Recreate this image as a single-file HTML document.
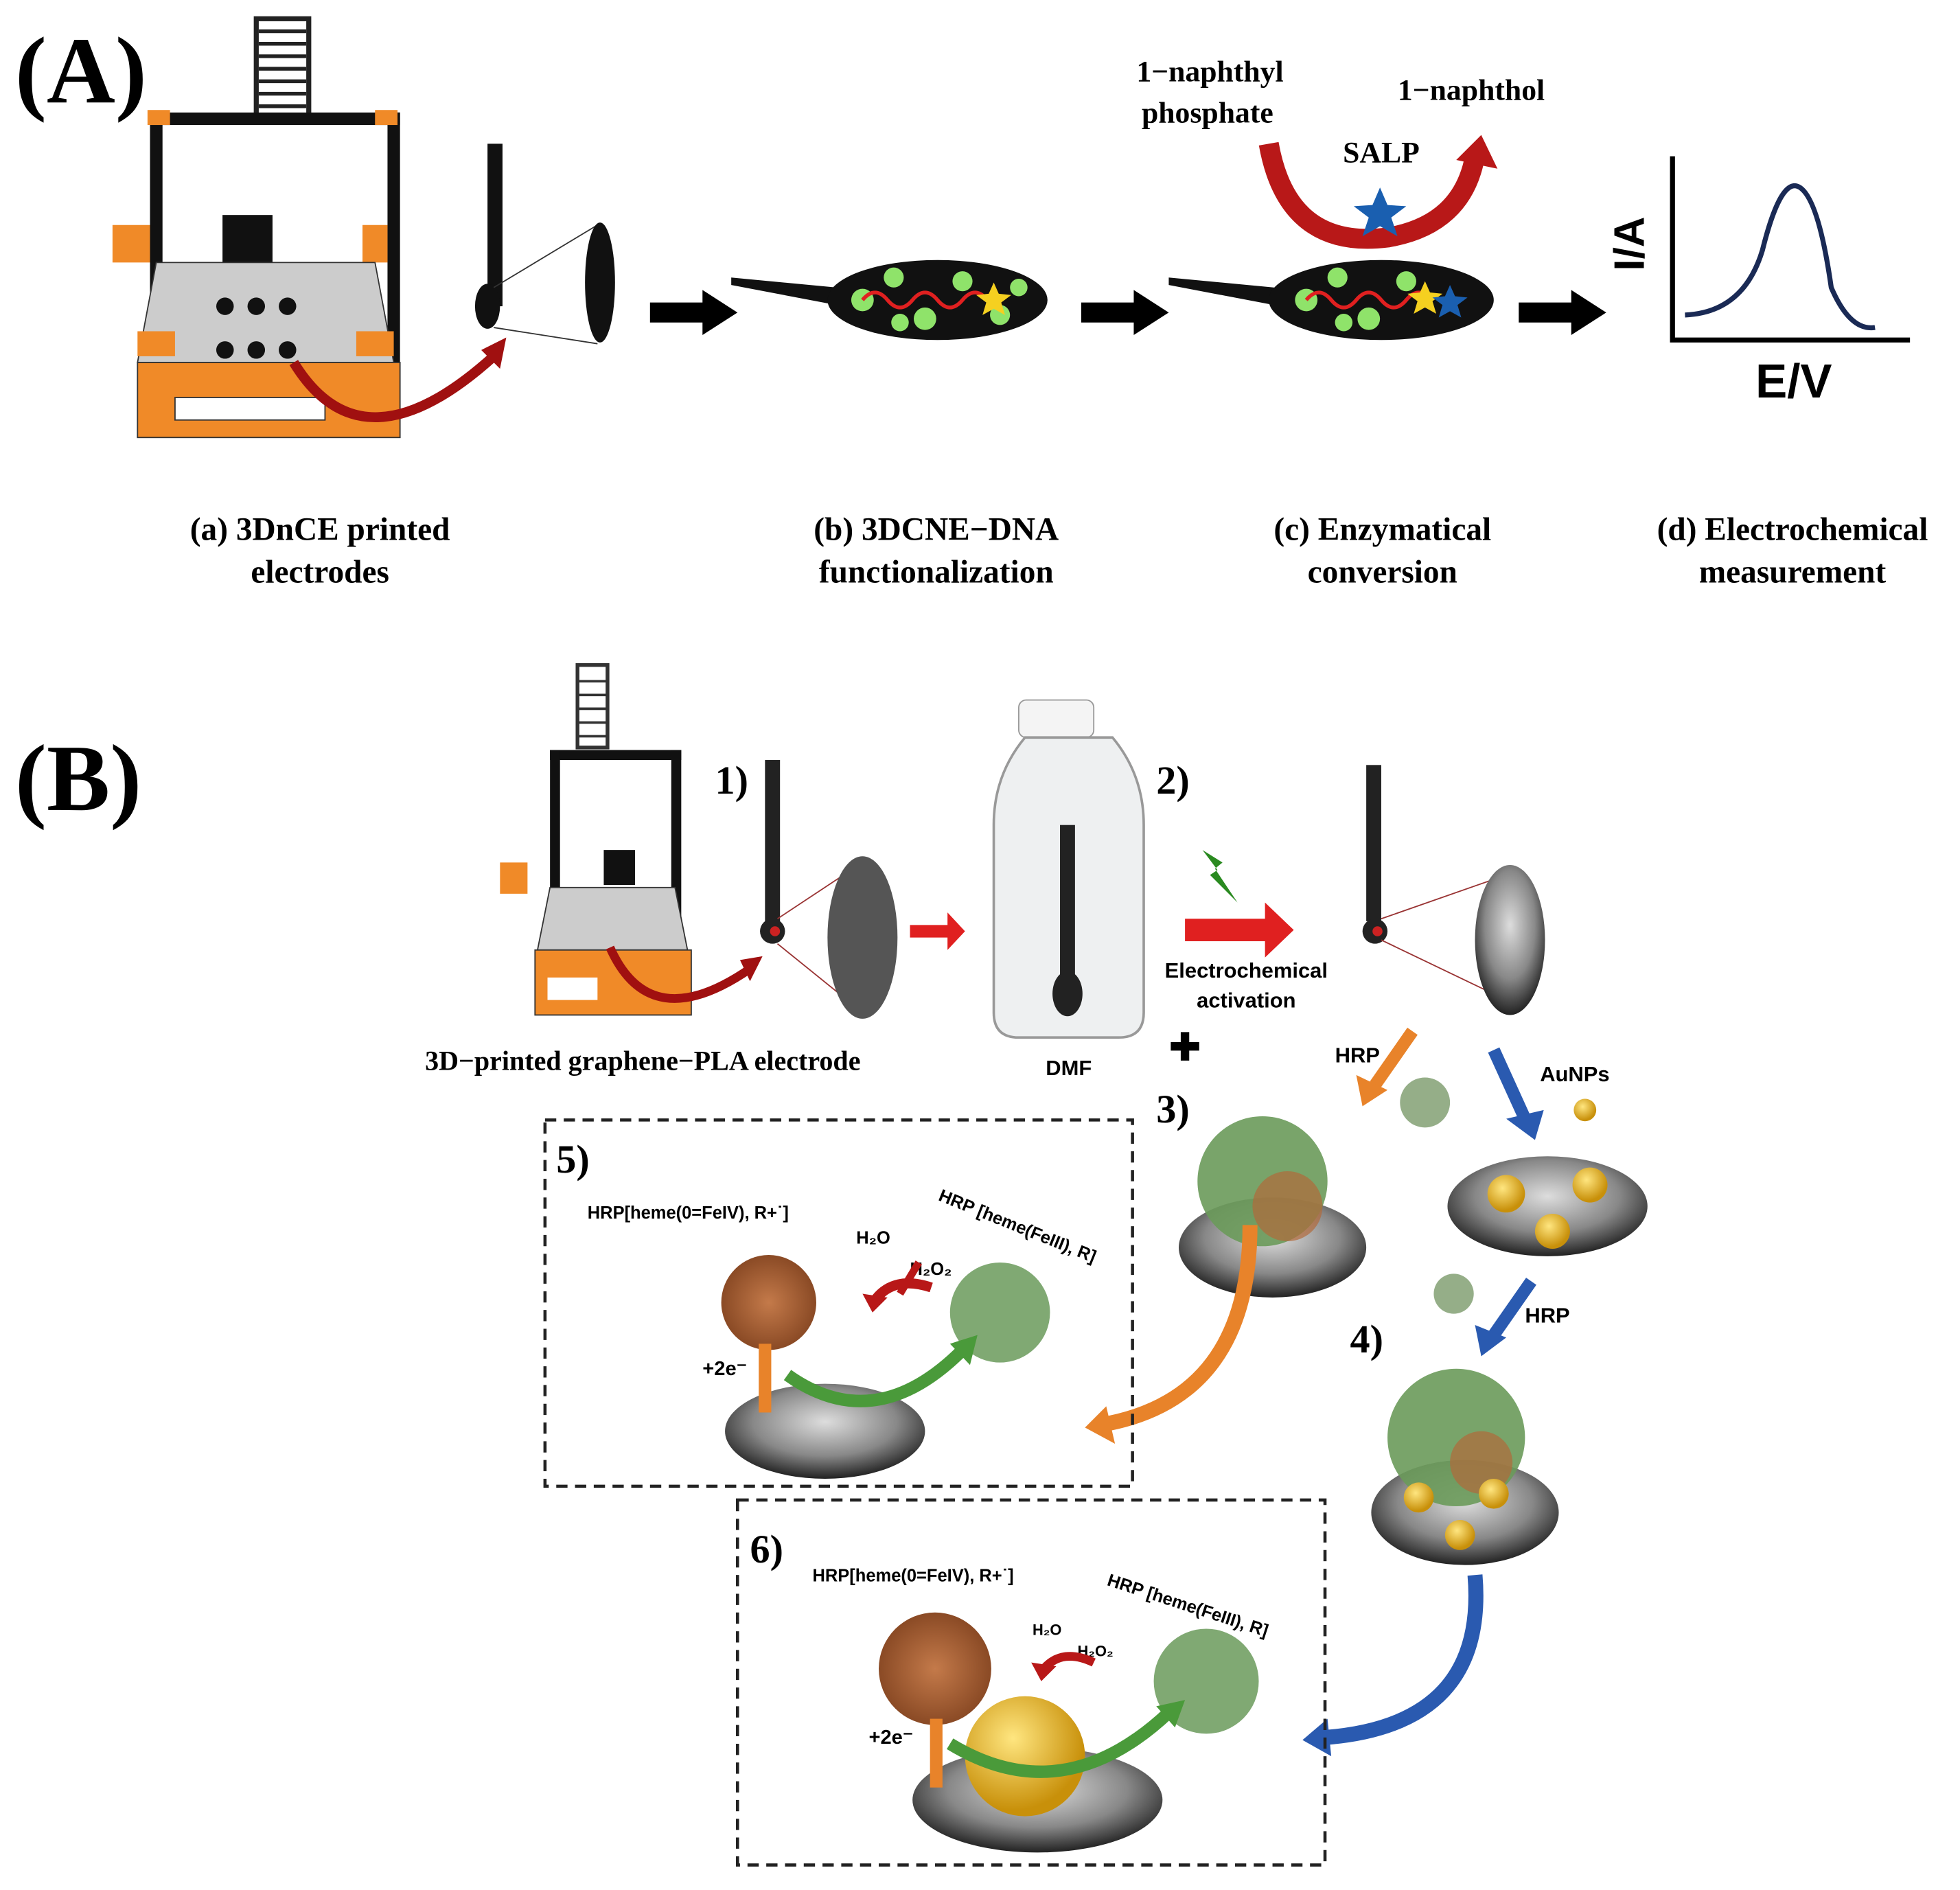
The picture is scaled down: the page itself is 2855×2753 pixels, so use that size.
<!DOCTYPE html>
<html><head><meta charset="utf-8"><style>
html,body{margin:0;padding:0;background:#fff}
svg{display:block}
.s{font-family:"Liberation Serif",serif;font-weight:bold}
.a{font-family:"Liberation Sans",sans-serif;font-weight:bold}
</style></head><body>
<svg width="2855" height="2753" viewBox="0 0 1568 1512" xmlns="http://www.w3.org/2000/svg">
<defs>
<radialGradient id="g" cx="50%" cy="40%" r="60%"><stop offset="0" stop-color="#ddd"/><stop offset="0.6" stop-color="#888"/><stop offset="1" stop-color="#222"/></radialGradient>
<radialGradient id="au" cx="40%" cy="35%" r="60%"><stop offset="0" stop-color="#ffe680"/><stop offset="1" stop-color="#c8900a"/></radialGradient>
<radialGradient id="pr" cx="50%" cy="50%" r="50%"><stop offset="0" stop-color="#c47a4a"/><stop offset="1" stop-color="#8a4a25"/></radialGradient>
</defs>
<rect width="1568" height="1512" fill="#fff"/>
<text class="s" x="12" y="82" font-size="76">(A)</text>
<g>
<rect x="205" y="15" width="42" height="78" fill="#fff" stroke="#222" stroke-width="4"/>
<g stroke="#222" stroke-width="3"><line x1="207" y1="25" x2="245" y2="25"/><line x1="207" y1="35" x2="245" y2="35"/><line x1="207" y1="45" x2="245" y2="45"/><line x1="207" y1="55" x2="245" y2="55"/><line x1="207" y1="65" x2="245" y2="65"/><line x1="207" y1="75" x2="245" y2="75"/><line x1="207" y1="85" x2="245" y2="85"/></g>
<rect x="120" y="90" width="200" height="10" fill="#111"/>
<rect x="120" y="90" width="10" height="260" fill="#111"/>
<rect x="310" y="90" width="10" height="260" fill="#111"/>
<rect x="118" y="88" width="18" height="12" fill="#f08a28"/><rect x="300" y="88" width="18" height="12" fill="#f08a28"/>
<rect x="90" y="180" width="30" height="30" fill="#f08a28"/><rect x="290" y="180" width="20" height="30" fill="#f08a28"/>
<rect x="178" y="172" width="40" height="40" fill="#111"/>
<path d="M125 210 L300 210 L315 290 L110 290z" fill="#ccc" stroke="#333"/>
<rect x="110" y="265" width="30" height="20" fill="#f08a28"/><rect x="285" y="265" width="30" height="20" fill="#f08a28"/>
<rect x="110" y="290" width="210" height="60" fill="#f08a28" stroke="#333"/>
<rect x="140" y="318" width="120" height="18" fill="#fff" stroke="#333"/>
<g fill="#111"><circle cx="180" cy="245" r="7"/><circle cx="205" cy="245" r="7"/><circle cx="230" cy="245" r="7"/><circle cx="180" cy="280" r="7"/><circle cx="205" cy="280" r="7"/><circle cx="230" cy="280" r="7"/></g>
<path d="M235 290 Q290 380 395 285" fill="none" stroke="#a01010" stroke-width="8"/><path d="M385 280 L405 270 L400 295z" fill="#a01010"/>
</g>
<rect x="390" y="115" width="12" height="130" fill="#111"/><ellipse cx="390" cy="245" rx="10" ry="18" fill="#111"/>
<line x1="395" y1="230" x2="478" y2="180" stroke="#333"/><line x1="395" y1="262" x2="478" y2="275" stroke="#333"/>
<ellipse cx="480" cy="226" rx="12" ry="48" fill="#111"/>
<g fill="#000"><rect x="520" y="242" width="45" height="16"/><path d="M562 232L590 250L562 268z"/>
<rect x="865" y="242" width="45" height="16"/><path d="M907 232L935 250L907 268z"/>
<rect x="1215" y="242" width="45" height="16"/><path d="M1257 232L1285 250L1257 268z"/></g>
<path d="M585 222 L690 232 L690 248 L585 228z" fill="#111"/>
<ellipse cx="750" cy="240" rx="88" ry="32" fill="#111"/>
<g fill="#8fe36a"><circle cx="690" cy="240" r="9"/><circle cx="715" cy="222" r="8"/><circle cx="740" cy="255" r="9"/><circle cx="770" cy="225" r="8"/><circle cx="800" cy="252" r="8"/><circle cx="720" cy="258" r="7"/><circle cx="815" cy="230" r="7"/></g>
<path d="M690 240 q10 -12 20 0 t20 0 t20 0 t20 0 t20 0" fill="none" stroke="#e02020" stroke-width="3"/>
<path d="M795 226l4 9 10 1-8 6 3 10-9-5-9 5 3-10-8-6 10-1z" fill="#f5d020"/>
<path d="M935 222 L1040 232 L1040 248 L935 228z" fill="#111"/>
<ellipse cx="1105" cy="240" rx="90" ry="32" fill="#111"/>
<g fill="#8fe36a"><circle cx="1045" cy="240" r="9"/><circle cx="1070" cy="222" r="8"/><circle cx="1095" cy="255" r="9"/><circle cx="1125" cy="225" r="8"/><circle cx="1075" cy="258" r="7"/></g>
<path d="M1045 240 q10 -12 20 0 t20 0 t20 0 t20 0 t20 0" fill="none" stroke="#e02020" stroke-width="3"/>
<path d="M1140 225l4 9 10 1-8 6 3 10-9-5-9 5 3-10-8-6 10-1z" fill="#f5d020"/>
<path d="M1160 228l4 9 10 1-8 6 3 10-9-5-9 5 3-10-8-6 10-1z" fill="#1a5fb0"/>
<path d="M1015 115 Q1030 200 1110 190 Q1170 180 1180 125" fill="none" stroke="#b81818" stroke-width="16"/>
<path d="M1165 128 L1185 108 L1198 135z" fill="#b81818"/>
<path d="M1104 150l6 14 15 1-12 9 5 15-14-8-14 8 5-15-12-9 15-1z" fill="#1a5fb0"/>
<text class="s" x="968" y="65" font-size="24" text-anchor="middle">1−naphthyl</text>
<text class="s" x="966" y="98" font-size="24" text-anchor="middle">phosphate</text>
<text class="s" x="1177" y="80" font-size="24" text-anchor="middle">1−naphthol</text>
<text class="s" x="1105" y="130" font-size="24" text-anchor="middle">SALP</text>
<path d="M1338 125 L1338 272 L1528 272" fill="none" stroke="#000" stroke-width="4"/>
<path d="M1348 252 Q1395 250 1410 200 Q1425 140 1440 150 Q1455 160 1465 230 Q1480 265 1500 262" fill="none" stroke="#1a2a55" stroke-width="4"/>
<text class="a" x="1315" y="195" font-size="34" transform="rotate(-90 1315 195)" text-anchor="middle">I/A</text>
<text class="a" x="1435" y="318" font-size="38" text-anchor="middle">E/V</text>
<g class="s" font-size="26" text-anchor="middle">
<text x="256" y="432">(a) 3DnCE printed</text><text x="256" y="466">electrodes</text>
<text x="749" y="432">(b) 3DCNE−DNA</text><text x="749" y="466">functionalization</text>
<text x="1106" y="432">(c) Enzymatical</text><text x="1106" y="466">conversion</text>
<text x="1434" y="432">(d) Electrochemical</text><text x="1434" y="466">measurement</text>
</g>
<text class="s" x="12" y="648" font-size="76">(B)</text>
<rect x="462" y="532" width="24" height="66" fill="#fff" stroke="#333" stroke-width="3"/>
<g stroke="#333" stroke-width="2"><line x1="463" y1="545" x2="485" y2="545"/><line x1="463" y1="556" x2="485" y2="556"/><line x1="463" y1="567" x2="485" y2="567"/><line x1="463" y1="578" x2="485" y2="578"/><line x1="463" y1="589" x2="485" y2="589"/></g>
<rect x="440" y="600" width="105" height="8" fill="#111"/>
<rect x="440" y="600" width="8" height="140" fill="#111"/><rect x="537" y="600" width="8" height="140" fill="#111"/>
<rect x="400" y="690" width="22" height="25" fill="#f08a28"/>
<rect x="483" y="680" width="25" height="28" fill="#111"/>
<path d="M440 710 L540 710 L550 760 L430 760z" fill="#ccc" stroke="#333"/>
<rect x="428" y="760" width="125" height="52" fill="#f08a28" stroke="#333"/>
<rect x="438" y="782" width="40" height="18" fill="#fff"/>
<path d="M488 758 Q520 830 600 775" fill="none" stroke="#a01010" stroke-width="7"/><path d="M592 768 L610 765 L600 785z" fill="#a01010"/>
<text class="s" x="572" y="635" font-size="32">1)</text>
<rect x="612" y="608" width="12" height="130" fill="#222"/><circle cx="618" cy="745" r="10" fill="#222"/><circle cx="620" cy="745" r="4" fill="#c22"/>
<line x1="622" y1="735" x2="690" y2="690" stroke="#933"/><line x1="622" y1="755" x2="690" y2="810" stroke="#933"/>
<ellipse cx="690" cy="750" rx="28" ry="65" fill="#555"/>
<path d="M728 740 L758 740 L758 730 L772 745 L758 760 L758 750 L728 750z" fill="#e02020"/>
<rect x="815" y="560" width="60" height="30" rx="6" fill="#f4f4f4" stroke="#999"/>
<path d="M820 590 Q795 620 795 660 L795 810 Q795 830 815 830 L895 830 Q915 830 915 810 L915 660 Q915 620 890 590z" fill="#eef0f1" stroke="#999" stroke-width="2"/>
<rect x="848" y="660" width="12" height="130" fill="#222"/><ellipse cx="854" cy="795" rx="12" ry="18" fill="#222"/>
<text class="a" x="855" y="860" font-size="17" text-anchor="middle">DMF</text>
<text class="s" x="925" y="635" font-size="32">2)</text>
<path d="M962 680 L978 690 L972 695 L990 722 L968 700 L974 696z" fill="#2a8a20"/>
<path d="M948 735 L1012 735 L1012 722 L1035 744 L1012 766 L1012 753 L948 753z" fill="#e02020"/>
<text class="a" x="997" y="782" font-size="17" text-anchor="middle">Electrochemical</text>
<text class="a" x="997" y="806" font-size="17" text-anchor="middle">activation</text>
<text class="s" x="948" y="848" font-size="30" text-anchor="middle">✚</text>
<text class="s" x="340" y="856" font-size="22">3D−printed graphene−PLA electrode</text>
<rect x="1093" y="612" width="12" height="125" fill="#222"/><circle cx="1100" cy="745" r="10" fill="#222"/><circle cx="1102" cy="745" r="4" fill="#c22"/>
<line x1="1105" y1="735" x2="1205" y2="700" stroke="#933"/><line x1="1105" y1="752" x2="1205" y2="800" stroke="#933"/>
<ellipse cx="1208" cy="752" rx="28" ry="60" fill="url(#g)"/>
<path d="M1130 825 L1100 868" stroke="#e8832a" stroke-width="10"/><path d="M1085 860 L1090 885 L1110 872z" fill="#e8832a"/>
<text class="a" x="1068" y="850" font-size="17">HRP</text>
<circle cx="1140" cy="882" r="20" fill="#7a9a6a" opacity="0.8"/>
<path d="M1195 840 L1220 895" stroke="#2a5ab0" stroke-width="10"/><path d="M1205 895 L1228 912 L1235 888z" fill="#2a5ab0"/>
<text class="a" x="1232" y="865" font-size="17">AuNPs</text>
<circle cx="1268" cy="888" r="9" fill="url(#au)"/>
<text class="s" x="925" y="898" font-size="32">3)</text>
<ellipse cx="1018" cy="998" rx="75" ry="40" fill="url(#g)"/>
<circle cx="1010" cy="945" r="52" fill="#6a9a5a" opacity="0.9"/><circle cx="1030" cy="965" r="28" fill="#b06a3a" opacity="0.7"/>
<path d="M1000 980 Q1000 1120 880 1140" fill="none" stroke="#e8832a" stroke-width="12"/><path d="M885 1125 L868 1142 L892 1155z" fill="#e8832a"/>
<ellipse cx="1238" cy="965" rx="80" ry="40" fill="url(#g)"/>
<circle cx="1205" cy="955" r="15" fill="url(#au)"/><circle cx="1272" cy="948" r="14" fill="url(#au)"/><circle cx="1242" cy="985" r="14" fill="url(#au)"/>
<circle cx="1163" cy="1035" r="16" fill="#7a9a6a" opacity="0.8"/>
<path d="M1225 1025 L1195 1068" stroke="#2a5ab0" stroke-width="10"/><path d="M1180 1060 L1185 1085 L1205 1070z" fill="#2a5ab0"/>
<text class="a" x="1220" y="1058" font-size="17">HRP</text>
<text class="s" x="1080" y="1082" font-size="32">4)</text>
<ellipse cx="1172" cy="1210" rx="75" ry="42" fill="url(#g)"/>
<circle cx="1165" cy="1150" r="55" fill="#6a9a5a" opacity="0.9"/><circle cx="1185" cy="1170" r="25" fill="#b06a3a" opacity="0.7"/>
<circle cx="1135" cy="1198" r="12" fill="url(#au)"/><circle cx="1195" cy="1195" r="12" fill="url(#au)"/><circle cx="1168" cy="1228" r="12" fill="url(#au)"/>
<path d="M1180 1260 Q1190 1380 1060 1390" fill="none" stroke="#2a5ab0" stroke-width="12"/><path d="M1062 1375 L1042 1392 L1065 1405z" fill="#2a5ab0"/>
<rect x="436" y="896" width="470" height="293" fill="none" stroke="#222" stroke-width="2.5" stroke-dasharray="9,6"/>
<text class="s" x="445" y="938" font-size="32">5)</text>
<text class="a" x="470" y="975" font-size="14">HRP[heme(0=FeIV), R+˙]</text>
<text class="a" x="750" y="960" font-size="14" transform="rotate(22 750 960)">HRP [heme(FeIII), R]</text>
<text class="a" x="685" y="995" font-size="14">H₂O</text><text class="a" x="728" y="1020" font-size="14">H₂O₂</text>
<ellipse cx="660" cy="1145" rx="80" ry="38" fill="url(#g)"/>
<circle cx="615" cy="1042" r="38" fill="url(#pr)"/>
<circle cx="800" cy="1050" r="40" fill="#6a9a5a" opacity="0.85"/>
<path d="M745 1030 Q715 1020 700 1040" fill="none" stroke="#b81818" stroke-width="8"/><path d="M690 1035 L698 1050 L710 1038z" fill="#b81818"/>
<path d="M720 1035 L735 1010" stroke="#b81818" stroke-width="6"/>
<rect x="607" y="1075" width="10" height="55" fill="#e8832a"/>
<path d="M630 1100 Q700 1150 770 1080" fill="none" stroke="#4a9a3a" stroke-width="10"/><path d="M760 1075 L782 1068 L776 1092z" fill="#4a9a3a"/>
<text class="a" x="562" y="1100" font-size="16">+2e⁻</text>
<rect x="590" y="1200" width="470" height="292" fill="none" stroke="#222" stroke-width="2.5" stroke-dasharray="9,6"/>
<text class="s" x="600" y="1250" font-size="32">6)</text>
<text class="a" x="650" y="1265" font-size="14">HRP[heme(0=FeIV), R+˙]</text>
<text class="a" x="885" y="1268" font-size="14" transform="rotate(18 885 1268)">HRP [heme(FeIII), R]</text>
<text class="a" x="826" y="1308" font-size="12">H₂O</text><text class="a" x="862" y="1325" font-size="12">H₂O₂</text>
<ellipse cx="830" cy="1440" rx="100" ry="42" fill="url(#g)"/>
<circle cx="820" cy="1405" r="48" fill="url(#au)"/>
<circle cx="748" cy="1335" r="45" fill="url(#pr)"/>
<circle cx="965" cy="1345" r="42" fill="#6a9a5a" opacity="0.85"/>
<path d="M875 1330 Q850 1318 835 1335" fill="none" stroke="#b81818" stroke-width="7"/><path d="M825 1330 L833 1345 L845 1333z" fill="#b81818"/>
<rect x="744" y="1375" width="10" height="55" fill="#e8832a"/>
<path d="M760 1395 Q850 1450 935 1370" fill="none" stroke="#4a9a3a" stroke-width="10"/><path d="M925 1365 L948 1360 L940 1382z" fill="#4a9a3a"/>
<text class="a" x="695" y="1395" font-size="16">+2e⁻</text>
</svg>
</body></html>
